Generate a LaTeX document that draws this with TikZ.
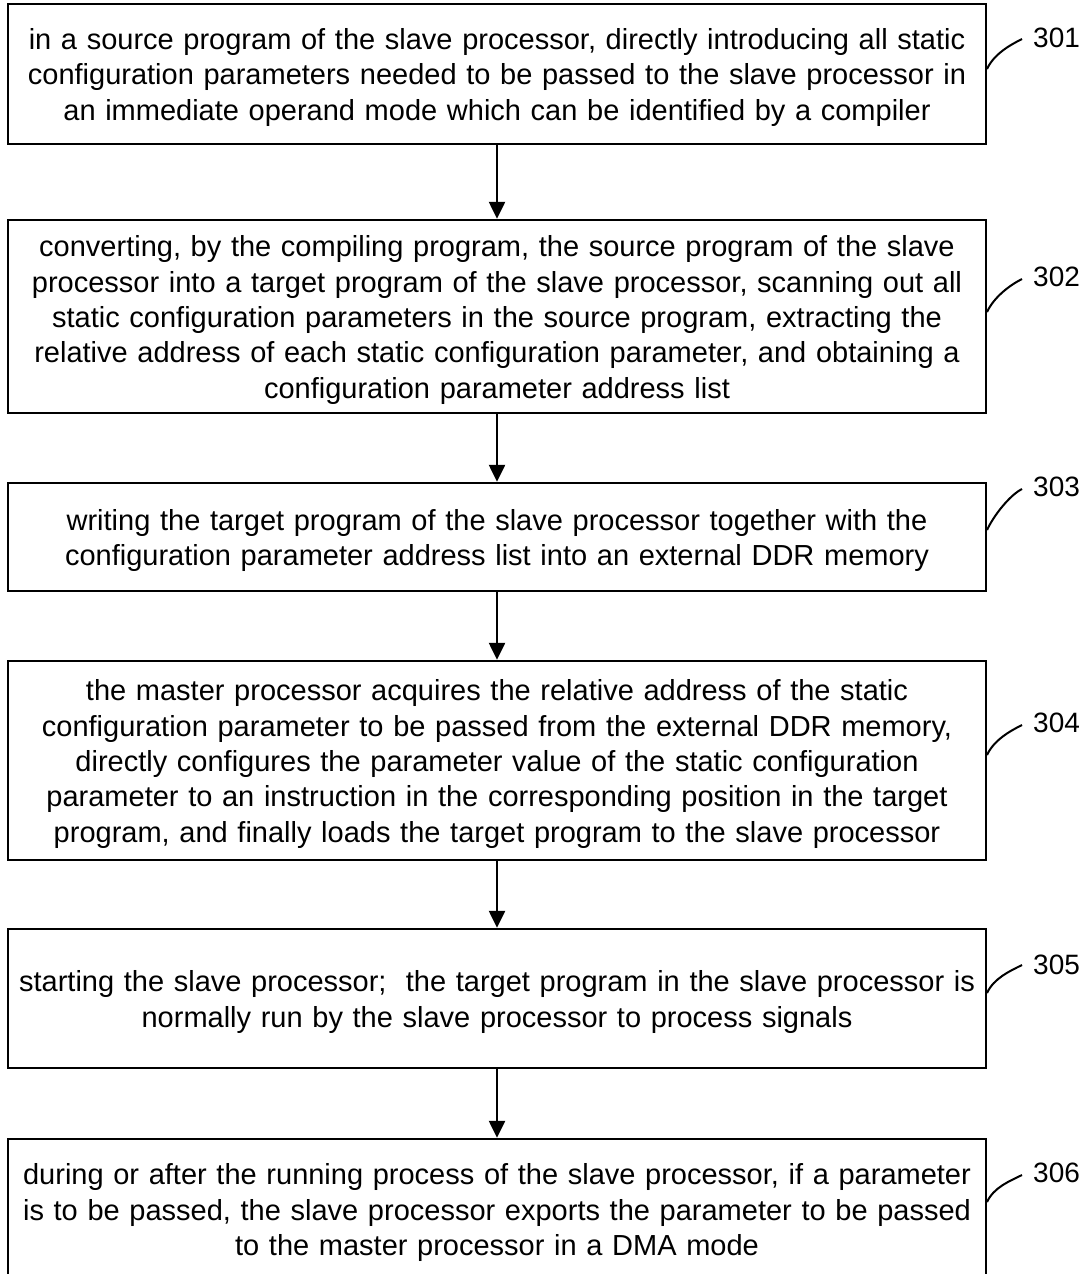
\documentclass[tikz,border=0pt]{standalone}
\usepackage{fontspec}
\setmainfont{Liberation Sans}
\usetikzlibrary{arrows.meta,calc}
\begin{document}
\begin{tikzpicture}[x=1pt,y=-1pt,
  stepbox/.style={draw,line width=2.4pt,rectangle,minimum width=978pt,text width=970pt,align=center,inner sep=0pt,font=\fontsize{29}{35.3}\selectfont},
  flow/.style={line width=2.4pt,-{Triangle[length=17pt,width=16pt]}},
  leader/.style={line width=2pt},
  reflabel/.style={anchor=west,inner sep=0pt,font=\fontsize{28}{32}\selectfont}]
\newcommand{\toppad}{\rule{0pt}{28pt}}
\useasboundingbox (0,0) rectangle (1086,1274);
\node[stepbox,minimum height=140pt] (b1) at (497,74) {\toppad in a source program of the slave processor, directly introducing all static\\configuration parameters needed to be passed to the slave processor in\\an immediate operand mode which can be identified by a compiler};
\node[stepbox,minimum height=193pt] (b2) at (497,316.5) {\toppad converting, by the compiling program, the source program of the slave\\processor into a target program of the slave processor, scanning out all\\static configuration parameters in the source program, extracting the\\relative address of each static configuration parameter, and obtaining a\\configuration parameter address list};
\node[stepbox,minimum height=108pt] (b3) at (497,537) {\toppad writing the target program of the slave processor together with the\\configuration parameter address list into an external DDR memory};
\node[stepbox,minimum height=199pt] (b4) at (497,760.5) {\toppad the master processor acquires the relative address of the static\\configuration parameter to be passed from the external DDR memory,\\directly configures the parameter value of the static configuration\\parameter to an instruction in the corresponding position in the target\\program, and finally loads the target program to the slave processor};
\node[stepbox,minimum height=139pt] (b5) at (497,998.5) {\toppad starting the slave processor;\ \ the target program in the slave processor is\\normally run by the slave processor to process signals};
\node[stepbox,minimum height=140pt] (b6) at (497,1209) {\toppad during or after the running process of the slave processor, if a parameter\\is to be passed, the slave processor exports the parameter to be passed\\to the master processor in a DMA mode};
\draw[flow] (b1) -- (b2);
\draw[flow] (b2) -- (b3);
\draw[flow] (b3) -- (b4);
\draw[flow] (b4) -- (b5);
\draw[flow] (b5) -- (b6);
\node[reflabel] (l1) at (1033,38) {301};
\node[reflabel] (l2) at (1033,277) {302};
\node[reflabel] (l3) at (1033,487) {303};
\node[reflabel] (l4) at (1033,723) {304};
\node[reflabel] (l5) at (1033,965) {305};
\node[reflabel] (l6) at (1033,1173) {306};
\coordinate (s1) at (987,69);   \coordinate (e1) at (1022,39);
\coordinate (s2) at (987,312);  \coordinate (e2) at (1022,279);
\coordinate (s3) at (987,530);  \coordinate (e3) at (1022,489);
\coordinate (s4) at (987,755);  \coordinate (e4) at (1022,725);
\coordinate (s5) at (987,993);  \coordinate (e5) at (1022,965);
\coordinate (s6) at (987,1202); \coordinate (e6) at (1022,1175);
\foreach \i in {1,...,6}{
  \draw[leader] (s\i) .. controls ($(s\i)+(7,-15)$) and ($(e\i)+(-12,6)$) .. (e\i);
}
\end{tikzpicture}
\end{document}
